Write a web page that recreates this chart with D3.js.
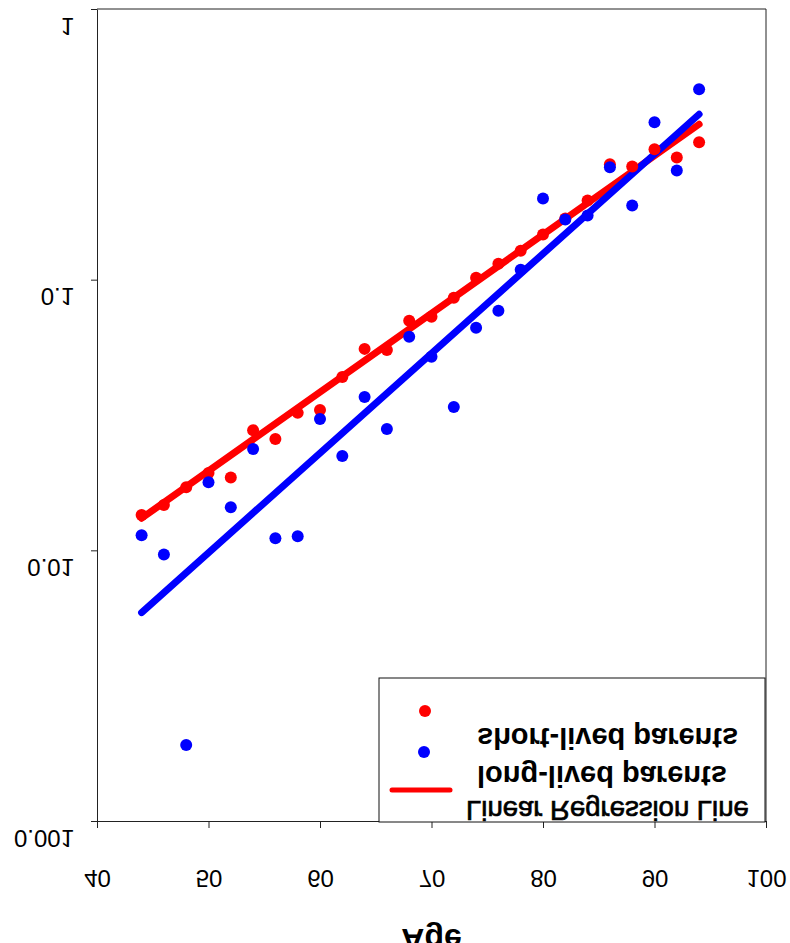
<!DOCTYPE html>
<html>
<head>
<meta charset="utf-8">
<script src="https://cdn.jsdelivr.net/npm/d3@7"></script>
<style>
  html, body { margin: 0; padding: 0; background: #fff; }
  svg { display: block; font-family: "Liberation Sans", Arial, sans-serif; }
</style>
</head>
<body>
<svg id="chart" width="790" height="943"></svg>
<script>
// ---- data ----
const ages = [44, 46, 48, 50, 52, 54, 56, 58, 60, 62, 64, 66, 68, 70, 72, 74, 76, 78, 80, 82, 84, 86, 88, 90, 92, 94];
const shortLived = [0.0135, 0.0147, 0.0171, 0.0193, 0.0186, 0.0278, 0.0258, 0.0322, 0.0330, 0.0437, 0.0555, 0.0550,
                    0.0705, 0.0729, 0.0858, 0.1017, 0.1146, 0.1280, 0.1468, 0.1682, 0.1962, 0.2667, 0.2621, 0.3030, 0.2830, 0.3217];
const longLived = [0.01136, 0.00966, 0.00191, 0.01786, 0.01443, 0.02366, 0.01108, 0.01127, 0.03056, 0.02229, 0.03686, 0.02806,
                   0.0615, 0.05186, 0.03385, 0.06641, 0.07677, 0.1089, 0.1995, 0.1668, 0.1726, 0.2600, 0.1879, 0.3815, 0.2533, 0.5055];
// regression line end points [age, value]
const shortFit = [[44, 0.01314], [94, 0.3751]];
const longFit = [[44, 0.00589], [94, 0.4085]];
const xTicks = [40, 50, 60, 70, 80, 90, 100];
const yTicks = [0.001, 0.01, 0.1, 1];
const yTickLabels = ["0.001", "0.01", "0.1", "1"];
const legendLabels = ["short-lived parents", "long-lived parents", "Linear Regression Line"];
const xTitle = "Age";

const RED = "#ff0000", BLUE = "#0000ff", AXIS = "#222";

const svg = d3.select("#chart");
const x = d3.scaleLinear().domain([40, 100]).range([97, 766]);
const y = d3.scaleLog().domain([0.001, 1]).range([821, 9]);

// frame (top and right)
svg.append("line").attr("x1", 97).attr("x2", 766).attr("y1", 9).attr("y2", 9).attr("stroke", AXIS);
svg.append("line").attr("x1", 766).attr("x2", 766).attr("y1", 9).attr("y2", 821).attr("stroke", AXIS);

// y axis
const yAxis = svg.append("g").attr("transform", "translate(97,0)")
  .call(d3.axisLeft(y).tickValues(yTicks).tickSize(6).tickSizeOuter(0)
        .tickFormat((d, i) => yTickLabels[i]));
yAxis.selectAll("path, line").attr("stroke", AXIS);
yAxis.selectAll("text")
  .attr("x", null).attr("dy", null).attr("y", null)
  .attr("fill", "#000").attr("font-size", 24).attr("text-anchor", "end")
  .attr("font-family", "Liberation Sans, Arial, sans-serif")
  .attr("transform", "translate(-23,8) scale(1,-1)");

// x axis
const xAxis = svg.append("g").attr("transform", "translate(0,821)")
  .call(d3.axisBottom(x).tickValues(xTicks).tickSize(7).tickSizeOuter(0));
xAxis.selectAll("path, line").attr("stroke", AXIS);
xAxis.selectAll("text")
  .attr("x", null).attr("dy", null).attr("y", null)
  .attr("fill", "#000").attr("font-size", 24).attr("text-anchor", "middle")
  .attr("font-family", "Liberation Sans, Arial, sans-serif")
  .attr("transform", "translate(0,49) scale(1,-1)");

// axis title (flipped like the reference)
svg.append("text")
  .attr("transform", `translate(${x(70)},929) scale(1,-1)`)
  .attr("text-anchor", "middle").attr("font-size", 32).attr("font-weight", "bold")
  .text(xTitle);

// regression lines
const line = d3.line().x(d => x(d[0])).y(d => y(d[1]));
svg.append("path").datum(shortFit).attr("d", line).attr("stroke", RED).attr("stroke-width", 7)
  .attr("fill", "none").attr("stroke-linecap", "round");
svg.append("path").datum(longFit).attr("d", line).attr("stroke", BLUE).attr("stroke-width", 7)
  .attr("fill", "none").attr("stroke-linecap", "round");

// points
svg.append("g").selectAll("circle").data(ages).join("circle")
  .attr("cx", d => x(d)).attr("cy", (d, i) => y(shortLived[i])).attr("r", 6).attr("fill", RED);
svg.append("g").selectAll("circle").data(ages).join("circle")
  .attr("cx", d => x(d)).attr("cy", (d, i) => y(longLived[i])).attr("r", 6).attr("fill", BLUE);

// legend
const lg = svg.append("g");
lg.append("rect").attr("x", 379).attr("y", 678).attr("width", 386).attr("height", 144)
  .attr("fill", "#fff").attr("stroke", "#111").attr("stroke-width", 1);
lg.append("circle").attr("cx", 425).attr("cy", 711).attr("r", 6).attr("fill", RED);
lg.append("circle").attr("cx", 424).attr("cy", 752).attr("r", 6).attr("fill", BLUE);
lg.append("line").attr("x1", 392).attr("x2", 450).attr("y1", 790).attr("y2", 790)
  .attr("stroke", RED).attr("stroke-width", 5).attr("stroke-linecap", "round");
const legendSpecs = [
  {x: 477, y: 728, size: 29, weight: "bold", stroke: 0},
  {x: 477, y: 766, size: 29, weight: "bold", stroke: 0},
  {x: 466, y: 801, size: 27.5, weight: "normal", stroke: 0.7}
];
legendLabels.forEach((t, i) => {
  const s = legendSpecs[i];
  const tx = lg.append("text").attr("transform", `translate(${s.x},${s.y}) scale(1,-1)`)
    .attr("font-size", s.size).attr("font-weight", s.weight).attr("fill", "#000").text(t);
  if (s.stroke) tx.attr("stroke", "#000").attr("stroke-width", s.stroke);
});
</script>
</body>
</html>
